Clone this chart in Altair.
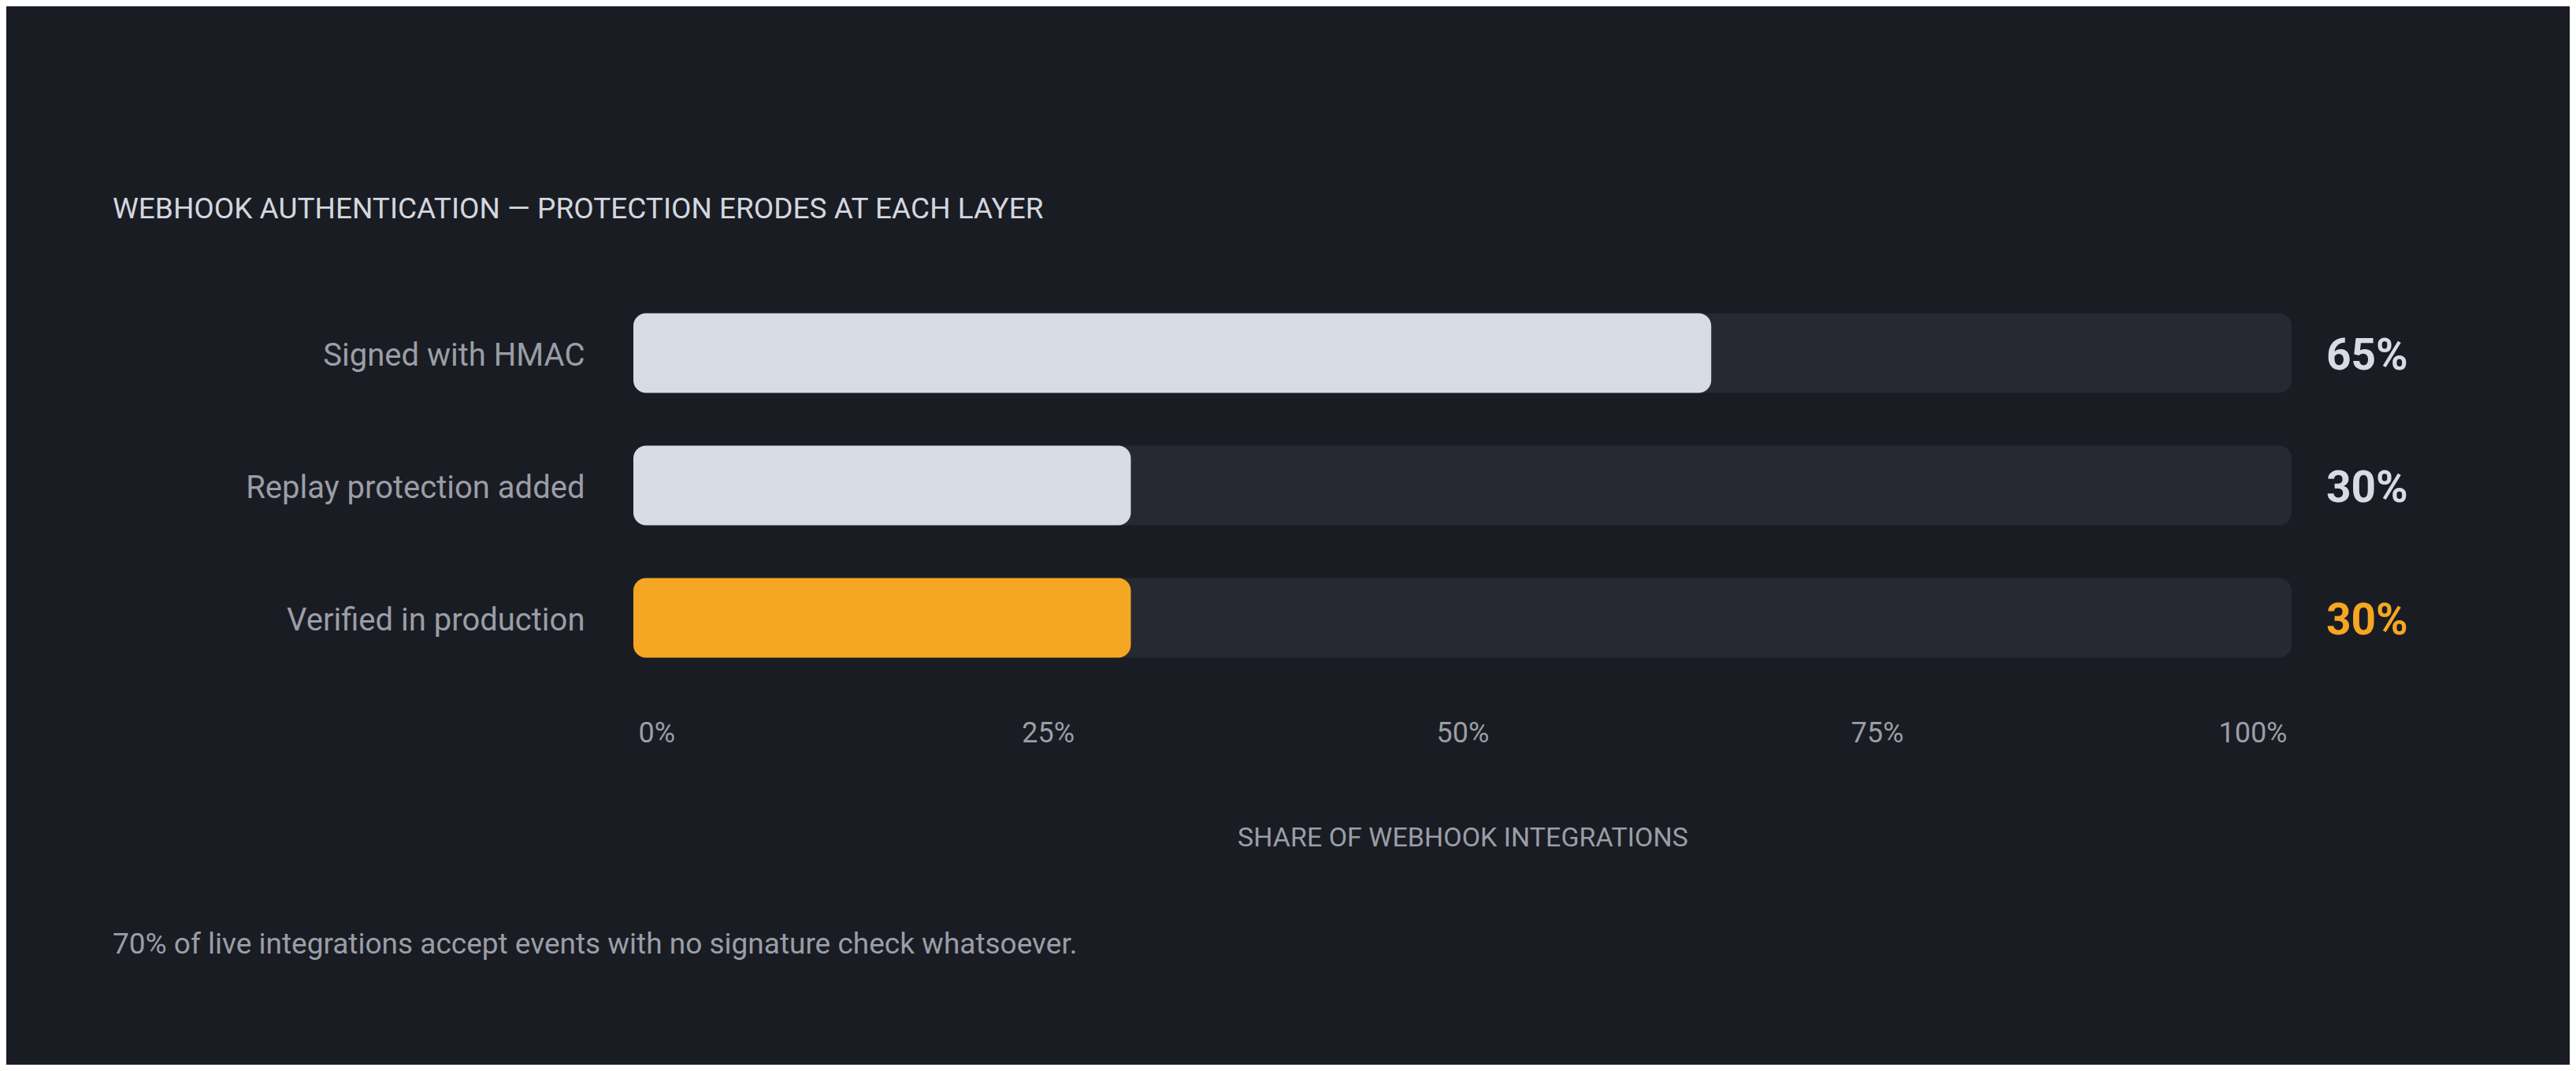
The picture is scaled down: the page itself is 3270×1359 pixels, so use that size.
import altair as alt
import pandas as pd

# ---- data ----
CATEGORIES = ["Signed with HMAC", "Replay protection added", "Verified in production"]
VALUES = [65, 30, 30]
VALUE_LABELS = ["65%", "30%", "30%"]
TICKS = [0, 25, 50, 75, 100]
HIGHLIGHT = "Verified in production"
TITLE = "WEBHOOK AUTHENTICATION — PROTECTION ERODES AT EACH LAYER"
X_TITLE = "SHARE OF WEBHOOK INTEGRATIONS"
FOOTNOTE = "70% of live integrations accept events with no signature check whatsoever."

# ---- styles ----
BG = "#1a1c23"
TRACK = "#262932"
LIGHT = "#d7dbe3"
ORANGE = "#f5a623"
MUTED = "#9a9ea7"
FONT = "Roboto"

df = pd.DataFrame({"category": CATEGORIES, "value": VALUES, "label": VALUE_LABELS})
note_df = pd.DataFrame({"note": [FOOTNOTE]})

W, H = 2105, 504

x_scale = alt.Scale(domain=[0, 100], nice=False)
x_axis = alt.Axis(
    values=TICKS,
    labelExpr="datum.value + '%'",
    grid=False,
    domain=False,
    ticks=False,
    tickSize=0,
    labelPadding=73,
    labelBaseline="alphabetic",
    labelFlush=True,
    labelFlushOffset=-6,
    labelFontSize=36,
    labelFont=FONT,
    labelColor=MUTED,
    title=X_TITLE,
    titleFont=FONT,
    titleFontSize=34,
    titleFontWeight="normal",
    titleColor=MUTED,
    titleBaseline="alphabetic",
    titleY=205,
)
y_enc = alt.Y(
    "category:N",
    sort=CATEGORIES,
    scale=alt.Scale(paddingInner=0.4, paddingOuter=0.2),
    axis=alt.Axis(
        title=None,
        domain=False,
        ticks=False,
        grid=False,
        labelPadding=62,
        labelOffset=4,
        labelFontSize=40,
        labelFont=FONT,
        labelColor=MUTED,
        labelLimit=0,
    ),
)

base = alt.Chart(df)

track = base.mark_bar(color=TRACK, cornerRadius=16).encode(
    x=alt.X(datum=0, scale=x_scale, axis=x_axis),
    x2=alt.X2(datum=100),
    y=y_enc,
)

bars = base.mark_bar(cornerRadius=16).encode(
    x=alt.X("value:Q", scale=x_scale, axis=x_axis),
    x2=alt.X2(datum=0),
    y=y_enc,
    color=alt.condition(
        alt.datum.category == HIGHLIGHT, alt.value(ORANGE), alt.value(LIGHT)
    ),
)

value_labels = base.mark_text(
    align="left", baseline="middle", dx=44, dy=4, fontSize=55, fontWeight="bold", font=FONT
).encode(
    x=alt.X(datum=100, scale=x_scale, axis=x_axis),
    y=y_enc,
    text="label:N",
    color=alt.condition(
        alt.datum.category == HIGHLIGHT, alt.value(ORANGE), alt.value(LIGHT)
    ),
)

footnote = alt.Chart(note_df).mark_text(
    align="left", baseline="alphabetic", fontSize=37, font=FONT, color=MUTED
).encode(
    x=alt.value(-661),
    y=alt.value(846),
    text="note:N",
)

chart = (
    alt.layer(track, bars, value_labels, footnote)
    .properties(
        width=W,
        height=H,
        background=BG,
        autosize=alt.AutoSizeParams(type="none"),
        padding={"left": 796, "top": 356, "right": 353, "bottom": 483},
        title=alt.TitleParams(
            text=TITLE,
            anchor="start",
            frame="group",
            dx=-661,
            offset=50,
            baseline="alphabetic",
            fontSize=37,
            font=FONT,
            fontWeight="normal",
            color="#d3d7df",
        ),
    )
    .configure_view(stroke=None)
)

chart.save("out.html", embed_options={"renderer": "svg", "actions": False})
